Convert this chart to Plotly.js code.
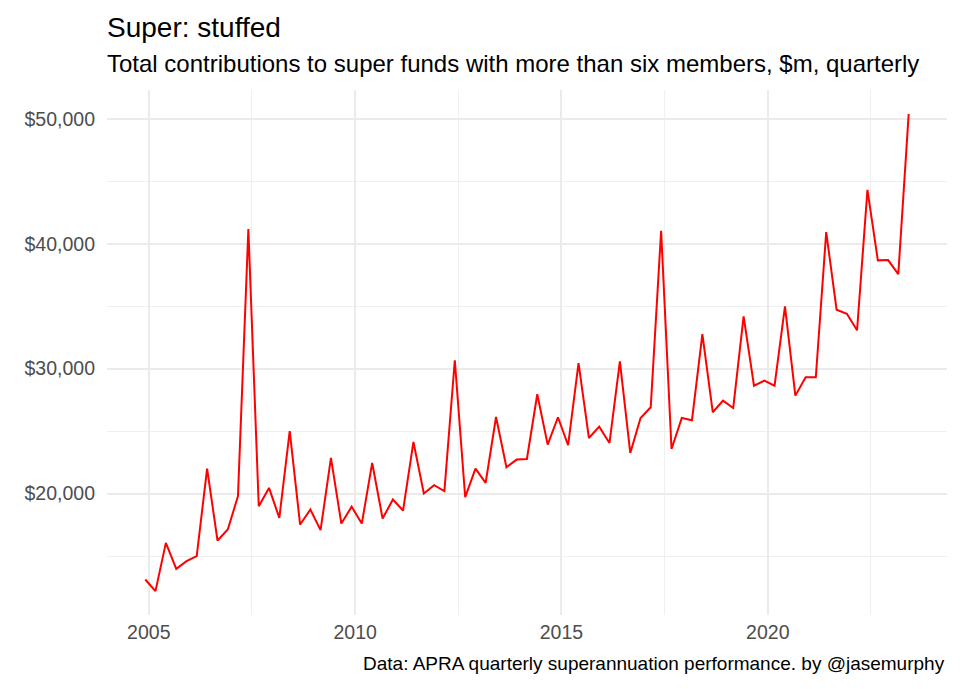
<!DOCTYPE html>
<html>
<head>
<meta charset="utf-8">
<script src="https://cdn.plot.ly/plotly-3.0.1.min.js"></script>
<style>
  html, body { margin: 0; padding: 0; background: #ffffff; }
  #chart { width: 960px; height: 689px; }
</style>
</head>
<body>
<div id="chart"></div>
<script>
// Quarter dates (Dec 2004 to Jun 2023)
const quarters = [
  "2004-12-01",
  "2005-03-01","2005-06-01","2005-09-01","2005-12-01",
  "2006-03-01","2006-06-01","2006-09-01","2006-12-01",
  "2007-03-01","2007-06-01","2007-09-01","2007-12-01",
  "2008-03-01","2008-06-01","2008-09-01","2008-12-01",
  "2009-03-01","2009-06-01","2009-09-01","2009-12-01",
  "2010-03-01","2010-06-01","2010-09-01","2010-12-01",
  "2011-03-01","2011-06-01","2011-09-01","2011-12-01",
  "2012-03-01","2012-06-01","2012-09-01","2012-12-01",
  "2013-03-01","2013-06-01","2013-09-01","2013-12-01",
  "2014-03-01","2014-06-01","2014-09-01","2014-12-01",
  "2015-03-01","2015-06-01","2015-09-01","2015-12-01",
  "2016-03-01","2016-06-01","2016-09-01","2016-12-01",
  "2017-03-01","2017-06-01","2017-09-01","2017-12-01",
  "2018-03-01","2018-06-01","2018-09-01","2018-12-01",
  "2019-03-01","2019-06-01","2019-09-01","2019-12-01",
  "2020-03-01","2020-06-01","2020-09-01","2020-12-01",
  "2021-03-01","2021-06-01","2021-09-01","2021-12-01",
  "2022-03-01","2022-06-01","2022-09-01","2022-12-01",
  "2023-03-01","2023-06-01"
];

// Total contributions, $m
const contributions = [
  13120,
  12190, 16050, 13970, 14590,
  14990, 22000, 16240, 17120,
  19790, 41170, 18990, 20450,
  18050, 24990, 17520, 18720,
  17070, 22850, 17600, 18950,
  17600, 22450, 18000, 19520,
  18640, 24130, 20000, 20670,
  20190, 30670, 19710, 22000,
  20850, 26130, 22110, 22720,
  22770, 27950, 23920, 26110,
  23870, 30450, 24450, 25360,
  24050, 30590, 23250, 26050,
  26910, 41040, 23570, 26050,
  25870, 32770, 26510, 27440,
  26850, 34190, 28640, 29040,
  28640, 34990, 27840, 29310,
  29310, 40930, 34720, 34400,
  33070, 44320, 38670, 38690,
  37570, 50400
];

const xTickVals = ["2005-01-01", "2010-01-01", "2015-01-01", "2020-01-01"];
const xTickText = ["2005", "2010", "2015", "2020"];
const xMinorVals = ["2007-07-02", "2012-07-01", "2017-07-02", "2022-07-02"];
const yTickVals = [20000, 30000, 40000, 50000];
const yTickText = ["$20,000", "$30,000", "$40,000", "$50,000"];
const yMinorVals = [15000, 25000, 35000, 45000];

const titleText = "Super: stuffed";
const subtitleText = "Total contributions to super funds with more than six members, $m, quarterly";
const captionText = "Data: APRA quarterly superannuation performance. by @jasemurphy";

const FONT = '"Liberation Sans", Arial, Helvetica, sans-serif';

const trace = {
  x: quarters,
  y: contributions,
  type: "scatter",
  mode: "lines",
  line: { color: "#ff0000", width: 2 },
  hoverinfo: "x+y"
};

const layout = {
  width: 960,
  height: 689,
  paper_bgcolor: "#ffffff",
  plot_bgcolor: "#ffffff",
  showlegend: false,
  margin: { l: 106.6, r: 13, t: 90, b: 73.5, pad: 0 },
  font: { family: FONT, color: "#000000" },
  title: {
    text: titleText,
    font: { family: FONT, size: 28, color: "#000000" },
    xref: "paper", x: 0, xanchor: "left",
    yref: "container", y: 1 - 27.3 / 689, yanchor: "middle",
    pad: { t: 0, b: 0, l: 0, r: 0 }
  },
  xaxis: {
    type: "date",
    range: ["2003-12-28", "2024-05-05"],
    tickmode: "array",
    tickvals: xTickVals,
    ticktext: xTickText,
    ticks: "",
    ticklabelstandoff: 3,
    showline: false,
    zeroline: false,
    showgrid: true,
    gridcolor: "#ebebeb",
    gridwidth: 1.6,
    tickfont: { family: FONT, size: 19.5, color: "#4d4d4d" },
    minor: {
      tickmode: "array",
      tickvals: xMinorVals,
      showgrid: true,
      gridcolor: "#efefef",
      gridwidth: 1,
      ticks: ""
    }
  },
  yaxis: {
    range: [10276, 52311],
    tickmode: "array",
    tickvals: yTickVals,
    ticktext: yTickText,
    ticks: "",
    ticklabelstandoff: 11,
    showline: false,
    zeroline: false,
    showgrid: true,
    gridcolor: "#ebebeb",
    gridwidth: 1.6,
    tickfont: { family: FONT, size: 19.5, color: "#4d4d4d" },
    minor: {
      tickmode: "array",
      tickvals: yMinorVals,
      showgrid: true,
      gridcolor: "#efefef",
      gridwidth: 1,
      ticks: ""
    }
  },
  annotations: [
    {
      text: subtitleText,
      xref: "paper", x: -0.002, xanchor: "left",
      yref: "paper", y: (615.5 - 63) / 525.5, yanchor: "middle",
      showarrow: false,
      font: { family: FONT, size: 24, color: "#000000" }
    },
    {
      text: captionText,
      xref: "paper", x: 1, xanchor: "right",
      yref: "paper", y: (615.5 - 664.2) / 525.5, yanchor: "middle",
      showarrow: false,
      font: { family: FONT, size: 19, color: "#000000" }
    }
  ]
};

Plotly.newPlot("chart", [trace], layout, { displayModeBar: false, responsive: false });
</script>
</body>
</html>
